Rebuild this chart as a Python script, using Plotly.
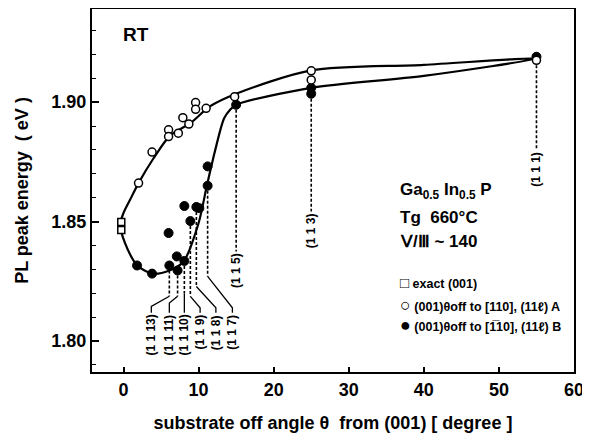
import plotly.graph_objects as go

FONT = "Liberation Sans"

# ---- data ----
sq_x = [-0.3, -0.3]
sq_y = [1.8498, 1.8465]

a_x = [2.0, 3.8, 6.0, 6.0, 7.3, 7.9, 8.7, 9.6, 9.6, 11.0, 14.8, 25.0, 25.0, 55.0]
a_y = [1.8661, 1.8791, 1.8884, 1.8856, 1.8870, 1.8935, 1.8908, 1.8998, 1.8970, 1.8974, 1.9023, 1.9131, 1.9093, 1.9175]

b_x = [1.8, 3.8, 6.1, 7.2, 7.1, 8.1, 6.0, 8.1, 8.9, 9.7, 10.1, 11.2, 11.2, 15.0, 25.0, 25.0, 55.0]
b_y = [1.8316, 1.8282, 1.8316, 1.8295, 1.8354, 1.8335, 1.8452, 1.8565, 1.8502, 1.8561, 1.8556, 1.8650, 1.8731, 1.8989, 1.9060, 1.9035, 1.9190]

# guide curve (hand-drawn fit in the original)
curve_x = [55.0, 40.0, 25.0, 15.0, 11.5, 8.9, 6.2, 4.0, 2.0, 0.87, 0.0, -0.45, 0.2, 1.84, 3.84, 6.1, 8.0, 10.0,
           11.1, 12.0, 12.9, 13.4, 14.2, 15.0, 25.0, 40.0, 55.0]
curve_y = [1.9183, 1.9156, 1.9133, 1.9035, 1.8982, 1.8912, 1.8860, 1.8765, 1.8661, 1.8591, 1.8536, 1.8487, 1.8410,
           1.8316, 1.8282, 1.8295, 1.8333, 1.8494, 1.8651, 1.8772, 1.8884, 1.8933, 1.8968, 1.8989, 1.9060, 1.9110, 1.9183]

# Miller-index labels and their leader lines
lbl_text = ["(1 1 13)", "(1 1 11)", "(1 1 10)", "(1 1 9)", "(1 1 8)", "(1 1 7)", "(1 1 5)", "(1 1 3)", "(1 1 1)"]
lead_x = [6.1, 7.2, 8.1, 8.9, 9.7, 11.2, 15.0, 25.0, 55.0]
lead_y0 = [1.8316, 1.8295, 1.8335, 1.8502, 1.8561, 1.8650, 1.8989, 1.9035, 1.9175]
lead_y1 = [1.8187, 1.8187, 1.8200, 1.8187, 1.8228, 1.8270, 1.8375, 1.8542, 1.8800]
knee_y = [1.8145, 1.8159, 1.8187, 1.8139, 1.8139, 1.8139, 1.8375, 1.8542, 1.8800]
label_x = [3.7, 6.1, 8.1, 10.2, 12.3, 14.5, 15.0, 25.0, 55.0]
label_top = [1.8118, 1.8118, 1.8118, 1.8118, 1.8118, 1.8118, 1.8375, 1.8542, 1.8800]

x_ticks = [0, 10, 20, 30, 40, 50, 60]
y_ticks = [1.80, 1.85, 1.90]

fig = go.Figure()

# dashed leaders
dx, dy = [], []
for x, y0, y1 in zip(lead_x, lead_y0, lead_y1):
    dx += [x, x, None]
    dy += [y0, y1, None]
fig.add_trace(go.Scatter(x=dx, y=dy, mode="lines", line=dict(color="black", width=1.6, dash="3px,2px"),
                         showlegend=False, hoverinfo="skip"))
# solid leader parts
sx, sy = [], []
for x, y1, lx, ky, lt in zip(lead_x, lead_y1, label_x, knee_y, label_top):
    sx += [x, lx, lx, None]
    sy += [y1, ky, lt, None]
fig.add_trace(go.Scatter(x=sx, y=sy, mode="lines", line=dict(color="black", width=1.3),
                         showlegend=False, hoverinfo="skip"))

fig.add_trace(go.Scatter(x=curve_x, y=curve_y, mode="lines", line=dict(color="black", width=2.2, shape="spline", smoothing=0.8),
                         showlegend=False, hoverinfo="skip"))

fig.add_trace(go.Scatter(x=sq_x, y=sq_y, mode="markers",
                         marker=dict(symbol="square", size=7, color="white", line=dict(color="black", width=1.5)),
                         showlegend=False))
fig.add_trace(go.Scatter(x=b_x, y=b_y, mode="markers",
                         marker=dict(symbol="circle", size=9, color="black", line=dict(color="black", width=1)),
                         showlegend=False))
fig.add_trace(go.Scatter(x=a_x, y=a_y, mode="markers",
                         marker=dict(symbol="circle", size=8, color="white", line=dict(color="black", width=1.5)),
                         showlegend=False))

ann = []
for t, lx, lt in zip(lbl_text, label_x, label_top):
    ann.append(dict(x=lx, y=lt, text=t, textangle=-90, showarrow=False, xanchor="center", yanchor="top",
                    font=dict(family=FONT, size=12, color="black", weight="bold")))

ann.append(dict(x=1.6, y=1.9282, text="RT", showarrow=False, xanchor="center", yanchor="middle",
                font=dict(family=FONT, size=19, color="black", weight="bold")))
ann.append(dict(x=36.6, y=1.8626, text="Ga<sub>0.5</sub> In<sub>0.5</sub> P", showarrow=False, xanchor="left", yanchor="middle",
                font=dict(family=FONT, size=17, color="black", weight="bold")))
ann.append(dict(x=36.6, y=1.8516, text="Tg  660°C", showarrow=False, xanchor="left", yanchor="middle",
                font=dict(family=FONT, size=17, color="black", weight="bold")))
ann.append(dict(x=36.6, y=1.8417, text="Ⅴ/Ⅲ ~ 140", showarrow=False, xanchor="left", yanchor="middle",
                font=dict(family=FONT, size=17, color="black", weight="bold")))

leg_y = [1.8243, 1.8152, 1.8068]
leg_sym = ["□", "○", "●"]
leg_sym_size = [15, 18, 18]
leg_txt = ["exact (001)", "(001)θoff to [110], (11ℓ) A", "(001)θoff to [1\u030510], (11ℓ) B"]
for yy, s, ss, t in zip(leg_y, leg_sym, leg_sym_size, leg_txt):
    ann.append(dict(x=36.6, y=yy,
                    text="<span style='font-size:%dpx'>%s</span> %s" % (ss, s, t),
                    showarrow=False, xanchor="left", yanchor="middle",
                    font=dict(family=FONT, size=12.5, color="black", weight="bold")))

# the page adds an 8 px body margin, so the figure is 8 px smaller than the window
fig.update_layout(
    width=582, height=429,
    margin=dict(l=84, r=16, t=1, b=65),
    paper_bgcolor="white", plot_bgcolor="white",
    annotations=ann,
    showlegend=False,
)
fig.update_xaxes(range=[-4.2, 60], tickvals=x_ticks, ticks="inside", ticklen=5, tickwidth=1.5, tickcolor="black",
                 showline=True, linecolor="black", linewidth=2, mirror=True, showgrid=False, zeroline=False,
                 automargin=False,
                 tickfont=dict(family=FONT, size=18, color="black", weight="bold"),
                 title=dict(text="substrate off angle θ  from (001) [ degree ]", standoff=18,
                            font=dict(family=FONT, size=18, color="black", weight="bold")))
fig.update_yaxes(range=[1.787, 1.939], tickvals=y_ticks, tickformat=".2f", ticks="inside", ticklen=7, tickwidth=1.5,
                 tickcolor="black",
                 minor=dict(dtick=0.01, tick0=1.80, ticks="inside", ticklen=4, tickwidth=1.2, tickcolor="black", showgrid=False),
                 showline=True, linecolor="black", linewidth=2, mirror=True, showgrid=False, zeroline=False,
                 automargin=False,
                 tickfont=dict(family=FONT, size=18, color="black", weight="bold"),
                 title=dict(text="PL peak energy  ( eV )", standoff=18,
                            font=dict(family=FONT, size=18, color="black", weight="bold")))

fig.write_html("out.html")
